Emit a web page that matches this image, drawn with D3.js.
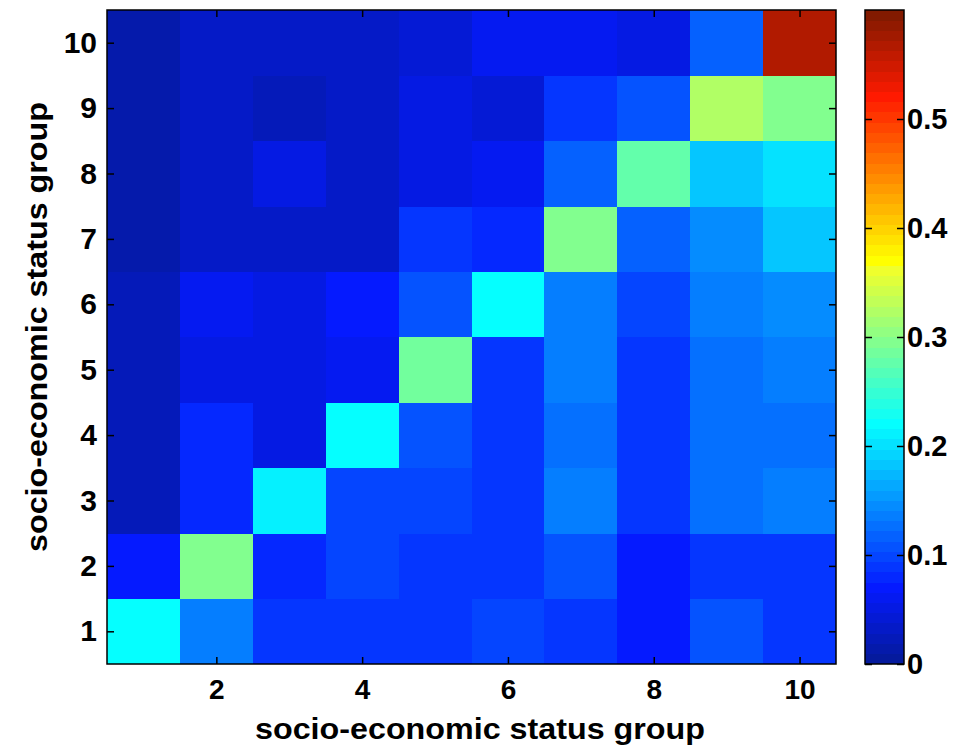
<!DOCTYPE html>
<html>
<head>
<meta charset="utf-8">
<script src="https://cdn.jsdelivr.net/npm/d3@7"></script>
<style>
  html, body { margin: 0; padding: 0; background: #fff; }
  svg text { font-family: "Liberation Sans", Arial, sans-serif; font-weight: bold; fill: #000; }
</style>
</head>
<body>
<svg id="chart" width="965" height="746"></svg>
<script>
// Socio-economic status groups on both axes
const groups = [1, 2, 3, 4, 5, 6, 7, 8, 9, 10];
const xTickValues = [2, 4, 6, 8, 10];
const yTickValues = [1, 2, 3, 4, 5, 6, 7, 8, 9, 10];
const colorTickValues = [0, 0.1, 0.2, 0.3, 0.4, 0.5];
const colorDomain = [0, 0.6];
const axisTitle = "socio-economic status group";

// Matrix rows: y group 1 (bottom) .. 10 (top); columns: x group 1 .. 10
const row1  = [0.220, 0.132, 0.089, 0.085, 0.085, 0.096, 0.089, 0.068, 0.106, 0.089];
const row2  = [0.068, 0.295, 0.075, 0.096, 0.089, 0.089, 0.106, 0.066, 0.085, 0.090];
const row3  = [0.028, 0.080, 0.215, 0.100, 0.096, 0.089, 0.133, 0.085, 0.125, 0.132];
const row4  = [0.028, 0.080, 0.055, 0.220, 0.112, 0.089, 0.127, 0.085, 0.127, 0.125];
const row5  = [0.025, 0.048, 0.048, 0.057, 0.285, 0.089, 0.132, 0.085, 0.127, 0.132];
const row6  = [0.028, 0.057, 0.048, 0.066, 0.106, 0.220, 0.132, 0.100, 0.132, 0.143];
const row7  = [0.014, 0.037, 0.033, 0.033, 0.089, 0.075, 0.295, 0.120, 0.148, 0.187];
const row8  = [0.014, 0.037, 0.048, 0.035, 0.055, 0.060, 0.120, 0.275, 0.187, 0.206];
const row9  = [0.014, 0.037, 0.028, 0.035, 0.052, 0.042, 0.089, 0.110, 0.323, 0.295];
const row10 = [0.014, 0.037, 0.030, 0.035, 0.040, 0.060, 0.060, 0.052, 0.120, 0.567];
const rows = [row1, row2, row3, row4, row5, row6, row7, row8, row9, row10];

// 64-step jet colour map (piecewise-linear channels, printed with a light wash)
function jet64() {
  const out = [];
  for (let j = 1; j <= 64; j++) {
    let r, g, b;
    if (j <= 8) b = 0.5 + j / 16; else if (j <= 24) b = 1; else if (j <= 40) b = (40 - j) / 16; else b = 0;
    if (j <= 8) g = 0; else if (j <= 24) g = (j - 8) / 16; else if (j <= 40) g = 1; else if (j <= 56) g = (56 - j) / 16; else g = 0;
    if (j <= 24) r = 0; else if (j <= 40) r = (j - 24) / 16; else if (j <= 56) r = 1; else r = (72 - j) / 16;
    g = 0.1 + 0.9 * g;
    if (b > 0) b = b + 0.12 * (1 - b);
    r = r + 0.02 * (1 - r);
    out.push(d3.rgb(r * 255, g * 255, b * 255).formatHex());
  }
  return out;
}
const palette = jet64();

const svg = d3.select("#chart");
const plot = { left: 107, right: 836, top: 10, bottom: 664 };
const bar = { left: 865, right: 904, top: 10, bottom: 664 };

const x = d3.scaleLinear().domain([0.5, 10.5]).range([plot.left, plot.right]);
const y = d3.scaleLinear().domain([0.5, 10.5]).range([plot.bottom, plot.top]);
const color = d3.scaleQuantize().domain(colorDomain).range(palette);

// Heat-map cells
const cells = [];
rows.forEach((r, i) => r.forEach((v, j) => cells.push({ gx: groups[j], gy: groups[i], v })));
svg.append("g")
  .selectAll("rect")
  .data(cells)
  .join("rect")
  .attr("x", d => x(d.gx - 0.5))
  .attr("y", d => y(d.gy + 0.5))
  .attr("width", d => x(d.gx + 0.5) - x(d.gx - 0.5) + 0.3)
  .attr("height", d => y(d.gy - 0.5) - y(d.gy + 0.5) + 0.3)
  .attr("fill", d => color(d.v))
  .attr("shape-rendering", "crispEdges");

const tickLen = 7;

function styleAxis(size) {
  return g => {
    g.select(".domain").remove();
    g.selectAll(".tick line").attr("stroke", "#000").attr("stroke-width", 1.5);
    g.selectAll(".tick text")
      .attr("font-size", size)
      .attr("font-family", "Liberation Sans, Arial, sans-serif")
      .attr("font-weight", "bold");
  };
}

// Bottom axis with labels, inward ticks
svg.append("g")
  .attr("transform", `translate(0,${plot.bottom})`)
  .call(d3.axisBottom(x).tickValues(xTickValues).tickSize(-tickLen).tickPadding(15).tickFormat(d3.format("d")))
  .call(styleAxis(28));
// Top mirror ticks
svg.append("g")
  .attr("transform", `translate(0,${plot.top})`)
  .call(d3.axisTop(x).tickValues(xTickValues).tickSize(-tickLen).tickFormat(""))
  .call(styleAxis(28));
// Left axis with labels
svg.append("g")
  .attr("transform", `translate(${plot.left},0)`)
  .call(d3.axisLeft(y).tickValues(yTickValues).tickSize(-tickLen).tickPadding(10).tickFormat(d3.format("d")))
  .call(styleAxis(30));
// Right mirror ticks
svg.append("g")
  .attr("transform", `translate(${plot.right},0)`)
  .call(d3.axisRight(y).tickValues(yTickValues).tickSize(-tickLen).tickFormat(""))
  .call(styleAxis(30));

// Plot frame
svg.append("rect")
  .attr("x", plot.left).attr("y", plot.top)
  .attr("width", plot.right - plot.left).attr("height", plot.bottom - plot.top)
  .attr("fill", "none").attr("stroke", "#000").attr("stroke-width", 1.5);

// Axis titles
svg.append("text")
  .attr("x", 480)
  .attr("y", 739)
  .attr("text-anchor", "middle")
  .attr("font-size", 30)
  .attr("textLength", 450)
  .attr("lengthAdjust", "spacingAndGlyphs")
  .text(axisTitle);
svg.append("text")
  .attr("transform", `translate(47,327) rotate(-90)`)
  .attr("text-anchor", "middle")
  .attr("font-size", 30)
  .attr("textLength", 450)
  .attr("lengthAdjust", "spacingAndGlyphs")
  .text(axisTitle);

// Colour bar
const cy = d3.scaleLinear().domain(colorDomain).range([bar.bottom, bar.top]);
const step = (colorDomain[1] - colorDomain[0]) / palette.length;
svg.append("g")
  .selectAll("rect")
  .data(palette)
  .join("rect")
  .attr("x", bar.left)
  .attr("y", (d, i) => cy(colorDomain[0] + (i + 1) * step))
  .attr("width", bar.right - bar.left)
  .attr("height", (d, i) => cy(colorDomain[0] + i * step) - cy(colorDomain[0] + (i + 1) * step) + 0.3)
  .attr("fill", d => d)
  .attr("shape-rendering", "crispEdges");

svg.append("g")
  .attr("transform", `translate(${bar.right},0)`)
  .call(d3.axisRight(cy).tickValues(colorTickValues).tickSize(-tickLen).tickPadding(3).tickFormat(d => d === 0 ? "0" : d3.format(".1f")(d)))
  .call(styleAxis(29));
svg.append("g")
  .attr("transform", `translate(${bar.left},0)`)
  .call(d3.axisLeft(cy).tickValues(colorTickValues).tickSize(-tickLen).tickFormat(""))
  .call(styleAxis(29));

svg.append("rect")
  .attr("x", bar.left).attr("y", bar.top)
  .attr("width", bar.right - bar.left).attr("height", bar.bottom - bar.top)
  .attr("fill", "none").attr("stroke", "#000").attr("stroke-width", 1.5);
</script>
</body>
</html>
